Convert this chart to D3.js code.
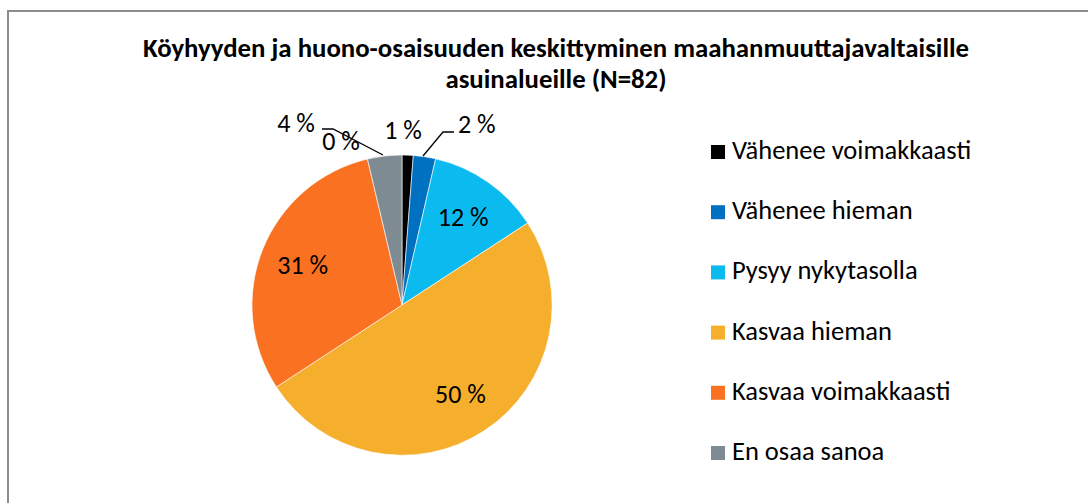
<!DOCTYPE html>
<html>
<head>
<meta charset="utf-8">
<script src="https://cdn.jsdelivr.net/npm/d3@7"></script>
<style>
  body { margin: 0; background: #fff; }
  svg { display: block; }
</style>
</head>
<body>
<svg id="chart" width="1088" height="503"></svg>
<script>
// osuudet (%), N=82
var categories = ["Vähenee voimakkaasti", "Vähenee hieman", "Pysyy nykytasolla",
                  "Kasvaa hieman", "Kasvaa voimakkaasti", "En osaa sanoa", ""];
var shares = [1.2, 2.4, 12.2, 50.0, 30.5, 3.7, 0];
var colors = ["#000000", "#0070c0", "#0bbbef", "#f6ae2d", "#fa7121", "#7f8b92", "#ffffff"];
var titleLines = ["Köyhyyden ja huono-osaisuuden keskittyminen maahanmuuttajavaltaisille",
                  "asuinalueille (N=82)"];

var fontFam = "Carlito, 'Open Sans', 'Noto Sans', sans-serif";

var svg = d3.select('#chart');

// chart area frame
svg.append('rect')
  .attr('x', 8).attr('y', 11)
  .attr('width', 1100).attr('height', 520)
  .attr('fill', 'none')
  .attr('stroke', '#8c8c8c')
  .attr('stroke-width', 2);

// title
svg.append('g').selectAll('text')
  .data(titleLines)
  .join('text')
  .attr('x', 556)
  .attr('y', (d, i) => 57 + i * 31)
  .attr('text-anchor', 'middle')
  .attr('font-family', fontFam)
  .attr('font-weight', 700)
  .attr('font-size', '26.8px')
  .attr('fill', '#000')
  .text(d => d);

var cx = 402, cy = 305, radius = 150;

var pie = d3.pie().sort(null).value(d => d)(shares);
var arc = d3.arc().innerRadius(0).outerRadius(radius);
var labelArc = d3.arc().innerRadius(107).outerRadius(107);

var g = svg.append('g').attr('transform', 'translate(' + cx + ',' + cy + ')');

g.selectAll('path')
  .data(pie.filter(d => d.value > 0))
  .join('path')
  .attr('d', arc)
  .attr('fill', d => colors[d.index])
  .attr('stroke', '#fff')
  .attr('stroke-width', 0.6);

function pct(v) { return Math.round(v) + ' %'; }

// small slices get their labels above the pie (baseline positions, relative to centre)
var outside = {
  0: { x: 1, y: -166, anchor: 'middle' },
  1: { x: 56, y: -172, anchor: 'start', line: [[21, -149], [41, -173], [52, -173]] },
  5: { x: -106, y: -173, anchor: 'middle', line: [[-19, -150], [-69, -176], [-80, -176]] },
  6: { x: -61, y: -155, anchor: 'middle' }
};

var labels = g.append('g');
pie.forEach(function(d, i) {
  var L = outside[i];
  if (L && L.line) {
    labels.append('path')
      .attr('d', d3.line()(L.line))
      .attr('fill', 'none')
      .attr('stroke', '#000')
      .attr('stroke-width', 1.3);
  }
  var t = labels.append('text')
    .attr('font-family', fontFam)
    .attr('font-size', '26px')
    .attr('fill', '#000')
    .text(pct(d.value));
  if (L) {
    t.attr('x', L.x).attr('y', L.y).attr('text-anchor', L.anchor);
  } else {
    var c = labelArc.centroid(d);
    t.attr('x', c[0]).attr('y', c[1]).attr('dy', '0.33em').attr('text-anchor', 'middle');
  }
});

// legend
var legendItems = categories.map((c, i) => ({ name: c, color: colors[i] })).filter(d => d.name !== '');
var legend = svg.append('g').attr('transform', 'translate(711,159)');
var rows = legend.selectAll('g')
  .data(legendItems)
  .join('g')
  .attr('transform', (d, i) => 'translate(0,' + (i * 60.2) + ')');

rows.append('rect')
  .attr('x', 0).attr('y', -14)
  .attr('width', 14).attr('height', 14)
  .attr('fill', d => d.color);

rows.append('text')
  .attr('x', 21)
  .attr('y', 0)
  .attr('font-family', fontFam)
  .attr('font-size', '26.5px')
  .attr('fill', '#000')
  .text(d => d.name);
</script>
</body>
</html>
